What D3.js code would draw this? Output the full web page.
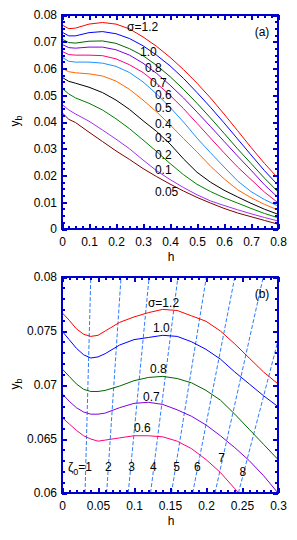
<!DOCTYPE html>
<html lang="en">
<head>
<meta charset="UTF-8">
<title>y_b versus h</title>
<style>
  body { margin: 0; background: #fff; }
  svg text { font-family: "Liberation Sans", Arial, sans-serif; font-size: 12px; fill: #000; }
  .frame { fill: none; stroke: #0000cc; stroke-width: 2px; shape-rendering: crispEdges; }
  .tick line { stroke: #0000cc; stroke-width: 2px; shape-rendering: crispEdges; }
  .domain { display: none; }
  .curve { fill: none; stroke-width: 1px; }
  .zeta { fill: none; stroke: #2b7bff; stroke-width: 1px; stroke-dasharray: 4,2; }
</style>
</head>
<body>
<script src="https://d3js.org/d3.v7.min.js"></script>
<script>
// ---- panel (a) data ----
const sigmaA = ["σ=1.2", "1.0", "0.8", "0.7", "0.6", "0.5", "0.4", "0.3", "0.2", "0.1", "0.05"];
const colorsA = ["#ff0000", "#0000ff", "#006400", "#8000e0", "#ff0080", "#1e90ff", "#ff6600", "#000000", "#008000", "#a030f0", "#800000"];
const hA = [0, 0.025, 0.05, 0.1, 0.15, 0.2, 0.25, 0.3, 0.35, 0.4, 0.45, 0.5, 0.55, 0.6, 0.65, 0.7, 0.75, 0.8];
const a12 = [.0763, .0749, .0751, .0766, .0772, .0766, .0748, .0718, .0683, .0642, .0596, .0545, .0490, .0430, .0368, .0305, .0245, .0190];
const a10 = [.0736, .0722, .0722, .0734, .0738, .0730, .0712, .0685, .0650, .0610, .0563, .0510, .0455, .0397, .0337, .0277, .0218, .0164];
const a08 = [.0710, .0697, .0695, .0702, .0703, .0694, .0674, .0648, .0612, .0570, .0522, .0470, .0415, .0358, .0300, .0245, .0190, .0139];
const a07 = [.0690, .0678, .0676, .0680, .0680, .0670, .0650, .0620, .0582, .0538, .0490, .0437, .0383, .0328, .0273, .0220, .0165, .0118];
const a06 = [.0664, .0652, .0650, .0650, .0648, .0636, .0614, .0585, .0545, .0500, .0450, .0395, .0340, .0285, .0232, .0185, .0138, .0098];
const a05 = [.0642, .0627, .0624, .0624, .0620, .0608, .0585, .0550, .0505, .0455, .0400, .0340, .0285, .0232, .0180, .0140, .0110, .0086];
const a04 = [.0601, .0588, .0584, .0580, .0572, .0553, .0522, .0482, .0438, .0390, .0338, .0288, .0235, .0188, .0147, .0117, .0092, .0071];
const a03 = [.0567, .0552, .0545, .0530, .0510, .0482, .0447, .0405, .0365, .0318, .0262, .0212, .0175, .0145, .0120, .0096, .0074, .0055];
const a02 = [.0526, .0505, .0490, .0470, .0445, .0412, .0375, .0333, .0290, .0245, .0203, .0167, .0140, .0117, .0097, .0077, .0058, .0042];
const a01 = [.0466, .0445, .0430, .0403, .0370, .0336, .0300, .0258, .0218, .0185, .0155, .0128, .0105, .0088, .0072, .0057, .0043, .0030];
const a005 = [.0435, .0410, .0398, .0362, .0327, .0292, .0260, .0226, .0196, .0168, .0142, .0118, .0097, .0077, .0060, .0046, .0032, .0018];
const seriesA = [a12, a10, a08, a07, a06, a05, a04, a03, a02, a01, a005];
// label anchors (h, y_b) for panel (a)
const labelPosA = [[0.241, 0.0755], [0.289, 0.0662], [0.307, 0.0602], [0.326, 0.0546], [0.344, 0.0501],
  [0.344, 0.0452], [0.344, 0.0393], [0.344, 0.0340], [0.344, 0.0277], [0.344, 0.0221], [0.344, 0.0138]];
const xTicksA = [0, 0.1, 0.2, 0.3, 0.4, 0.5, 0.6, 0.7, 0.8];
const yTicksA = [0, 0.01, 0.02, 0.03, 0.04, 0.05, 0.06, 0.07, 0.08];

// ---- panel (b) data ----
const sigmaB = ["σ=1.2", "1.0", "0.8", "0.7", "0.6"];
const colorsB = ["#ff0000", "#0000ff", "#006400", "#8000e0", "#ff0080"];
const hB = [0, 0.01, 0.02, 0.03, 0.04, 0.05, 0.06, 0.08, 0.10, 0.12, 0.14, 0.16, 0.18, 0.20, 0.22, 0.24, 0.26, 0.28, 0.30];
const b12 = [.0767, .0760, .0752, .0747, .0745, .0746, .0750, .0758, .0763, .0767, .0770, .0769, .0764, .0759, .0750, .0738, .0725, .0712, .0701];
const b10 = [.0750, .0742, .0734, .0728, .0725, .0726, .0729, .0737, .0742, .0744, .0746, .0745, .0740, .0733, .0724, .0712, .0701, .0690, .0680];
const b08 = [.0715, .0708, .0701, .0696, .0694, .0694, .0695, .0699, .0704, .0707, .0708, .0706, .0702, .0695, .0686, .0673, .0659, .0645, .0631];
const b07 = [.0692, .0685, .0679, .0675, .0673, .0673, .0674, .0679, .0683, .0684, .0682, .0677, .0671, .0663, .0653, .0642, .0630, .0616, .0600];
const b06 = [.0670, .0664, .0658, .0653, .0650, .0648, .0649, .0651, .0653, .0653, .0652, .0648, .0641, .0631, .0619, .0604, .0589, null, null];
const seriesB = [b12, b10, b08, b07, b06];
const labelPosB = [[0.1194, 0.07762], [0.1264, 0.07528], [0.1222, 0.07148], [0.1125, 0.06892], [0.100, 0.06608]];
// zeta_0 lines: h where each meets y_b = 0.06 and y_b = 0.08
const zetaNames = ["1", "2", "3", "4", "5", "6", "7", "8"];
const zetaLowH = [0.032, 0.062, 0.092, 0.123, 0.152, 0.1815, 0.2125, 0.245];
const zetaHighH = [0.040, 0.082, 0.121, 0.161, 0.2005, 0.240, 0.2795, 0.323];
const zetaLabelPos = [[0.0083, 0.06241], [0.0643, 0.06241], [0.0968, 0.06241], [0.1268, 0.06241],
  [0.1593, 0.06241], [0.1879, 0.06241], [0.2218, 0.06324], [0.251, 0.06197]];
const xTicksB = [0, 0.05, 0.1, 0.15, 0.2, 0.25, 0.3];
const yTicksB = [0.06, 0.065, 0.07, 0.075, 0.08];

const fmt = d => String(+d.toFixed(3));

const svg = d3.select("body").append("svg")
  .attr("width", 297).attr("height", 540);

function drawFrame(g, x, y, xMaj, xMinStep, yMaj, yMinStep) {
  const [x0, x1] = x.range(), [y0, y1] = y.range();
  const xMin = d3.range(x.domain()[0], x.domain()[1] + 1e-9, xMinStep);
  const yMin = d3.range(y.domain()[0], y.domain()[1] + 1e-9, yMinStep);
  const sides = [
    [d3.axisBottom(x), `translate(0,${y0})`, xMaj, xMin, true, 8],
    [d3.axisTop(x), `translate(0,${y1})`, xMaj, xMin, false, 0],
    [d3.axisLeft(y), `translate(${x0},0)`, yMaj, yMin, true, 5],
    [d3.axisRight(y), `translate(${x1},0)`, yMaj, yMin, false, 0]
  ];
  sides.forEach(([ax, tr, maj, mn, lab, pad]) => {
    g.append("g").attr("transform", tr)
      .call(ax.tickValues(mn).tickSize(-3).tickFormat(""));
    g.append("g").attr("transform", tr)
      .call(ax.tickValues(maj).tickSize(-5).tickPadding(pad).tickFormat(lab ? fmt : ""));
  });
  g.selectAll(".tick text").style("font-size", "12px").style("font-family", '"Liberation Sans", Arial, sans-serif');
  g.append("rect").attr("class", "frame")
    .attr("x", x0).attr("y", y1).attr("width", x1 - x0).attr("height", y0 - y1);
}

function axisTitles(g, x, y, tagText) {
  const [x0, x1] = x.range(), [y0, y1] = y.range();
  g.append("text").attr("x", (x0 + x1) / 2 + 1).attr("y", y0 + 32)
    .attr("text-anchor", "middle").text("h");
  const yl = g.append("text")
    .attr("transform", `translate(19,${(y0 + y1) / 2 - 1}) rotate(-90)`)
    .attr("text-anchor", "middle");
  yl.append("tspan").text("y");
  yl.append("tspan").attr("dy", 3).style("font-size", "9px").text("b");
  g.append("text").attr("x", x1 - 16).attr("y", y1 + 21)
    .attr("text-anchor", "middle").text(tagText);
}

// ---- panel (a) ----
const xa = d3.scaleLinear().domain([0, 0.8]).range([62, 278]);
const ya = d3.scaleLinear().domain([0, 0.08]).range([229, 15]);
const ga = svg.append("g");
const lineA = d3.line().x((d, i) => xa(hA[i])).y(d => ya(d));
ga.selectAll(".curve").data(seriesA).join("path")
  .attr("class", "curve")
  .attr("stroke", (d, i) => colorsA[i])
  .attr("d", lineA);
ga.selectAll(".clab").data(sigmaA).join("text")
  .attr("class", "clab")
  .attr("x", (d, i) => xa(labelPosA[i][0]))
  .attr("y", (d, i) => ya(labelPosA[i][1]))
  .attr("dy", "0.35em")
  .text(d => d);
drawFrame(ga, xa, ya, xTicksA, 0.025, yTicksA, 0.0025);
axisTitles(ga, xa, ya, "(a)");

// ---- panel (b) ----
const xb = d3.scaleLinear().domain([0, 0.3]).range([62, 278]);
const yb = d3.scaleLinear().domain([0.06, 0.08]).range([493, 277]);
const gb = svg.append("g");
gb.append("clipPath").attr("id", "clipB").append("rect")
  .attr("x", 62).attr("y", 277).attr("width", 216).attr("height", 216);
const plotB = gb.append("g").attr("clip-path", "url(#clipB)");
plotB.selectAll(".zeta").data(zetaNames).join("line")
  .attr("class", "zeta")
  .attr("x1", (d, i) => xb(zetaLowH[i])).attr("y1", yb(0.06))
  .attr("x2", (d, i) => xb(zetaHighH[i])).attr("y2", yb(0.08));
const lineB = d3.line().defined(d => d !== null).x((d, i) => xb(hB[i])).y(d => yb(d));
plotB.selectAll(".curve").data(seriesB).join("path")
  .attr("class", "curve")
  .attr("stroke", (d, i) => colorsB[i])
  .attr("d", lineB);
gb.selectAll(".clab").data(sigmaB).join("text")
  .attr("class", "clab")
  .attr("x", (d, i) => xb(labelPosB[i][0]))
  .attr("y", (d, i) => yb(labelPosB[i][1]))
  .attr("dy", "0.35em")
  .text(d => d);
gb.selectAll(".zlab").data(zetaNames).join("text")
  .attr("class", "zlab")
  .attr("x", (d, i) => xb(zetaLabelPos[i][0]))
  .attr("y", (d, i) => yb(zetaLabelPos[i][1]))
  .attr("dy", "0.35em")
  .attr("text-anchor", (d, i) => i === 0 ? "start" : "middle")
  .each(function (d, i) {
    const t = d3.select(this);
    if (i === 0) {
      t.append("tspan").text("ζ");
      t.append("tspan").attr("dy", 4).style("font-size", "9px").text("0");
      t.append("tspan").attr("dy", -4).text("=" + d);
    } else {
      t.text(d);
    }
  });
drawFrame(gb, xb, yb, xTicksB, 0.01, yTicksB, 0.001);
axisTitles(gb, xb, yb, "(b)");
</script>
</body>
</html>
